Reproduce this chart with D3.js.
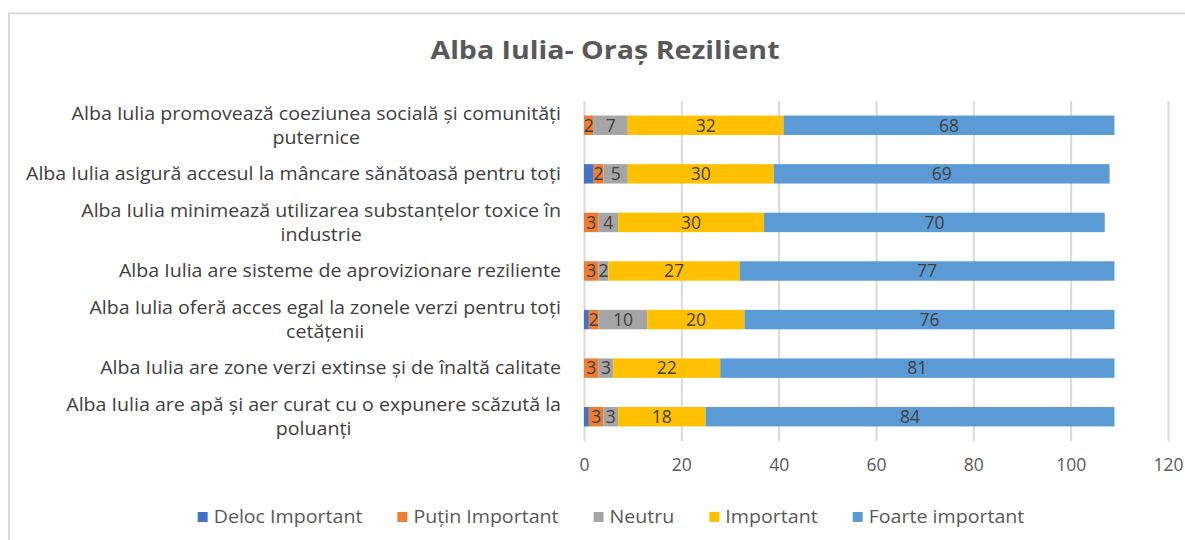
<!DOCTYPE html>
<html>
<head>
<meta charset="utf-8">
<script src="https://cdn.jsdelivr.net/npm/d3@7"></script>
<style>
  body { margin: 0; background: #fff; }
  svg { font-family: "Open Sans", sans-serif; }
  .grid line { stroke: #d9d9d9; stroke-width: 2; }
  .grid .domain { display: none; }
</style>
</head>
<body>
<svg width="1185" height="540"></svg>
<script>
// categories, top to bottom as in the chart
const categories = [
  'Alba Iulia promovează coeziunea socială și comunități puternice',
  'Alba Iulia asigură accesul la mâncare sănătoasă pentru toți',
  'Alba Iulia minimează utilizarea substanțelor toxice în industrie',
  'Alba Iulia are sisteme de aprovizionare reziliente',
  'Alba Iulia oferă acces egal la zonele verzi pentru toți cetățenii',
  'Alba Iulia are zone verzi extinse și de înaltă calitate',
  'Alba Iulia are apă și aer curat cu o expunere scăzută la poluanți'
];

const seriesNames = ['Deloc Important', 'Puțin Important', 'Neutru', 'Important', 'Foarte important'];

const delocImportant  = [0, 2, 0, 0, 1, 0, 1];
const putinImportant  = [2, 2, 3, 3, 2, 3, 3];
const neutru          = [7, 5, 4, 2, 10, 3, 3];
const important       = [32, 30, 30, 27, 20, 22, 18];
const foarteImportant = [68, 69, 70, 77, 76, 81, 84];

const xTicks = [0, 20, 40, 60, 80, 100, 120];

const colors = ['#4472c4', '#ed7d31', '#a5a5a5', '#ffc000', '#5b9bd5'];
const showLabels = [false, true, true, true, true];

const seriesValues = [delocImportant, putinImportant, neutru, important, foarteImportant];

const rows = categories.map((c, i) => {
  const r = { category: c };
  seriesNames.forEach((s, j) => r[s] = seriesValues[j][i]);
  return r;
});

const stacked = d3.stack().keys(seriesNames)(rows);

const plot = { left: 584, right: 1168, top: 101, bottom: 441 };

// the original text is drawn a bit wider than the installed fonts
const textStretch = 1.12;
const stretch = sel => sel.each(function () {
  const w = this.getComputedTextLength();
  d3.select(this)
    .attr('textLength', w * textStretch)
    .attr('lengthAdjust', 'spacingAndGlyphs');
});

const svg = d3.select('svg');

// outer frame
svg.append('path')
  .attr('d', `M9,540 V13.5 H1185`)
  .attr('fill', 'none')
  .attr('stroke', '#d9d9d9')
  .attr('stroke-width', 2);

svg.append('text')
  .attr('x', 605)
  .attr('y', 59)
  .attr('text-anchor', 'middle')
  .attr('font-size', 25.5)
  .attr('font-weight', 'bold')
  .attr('fill', '#595959')
  .text('Alba Iulia- Oraș Rezilient')
  .call(stretch);

const x = d3.scaleLinear()
  .domain([0, 120])
  .range([plot.left, plot.right]);

const y = d3.scaleBand()
  .domain(categories)
  .range([plot.top, plot.bottom])
  .paddingInner(0.6)
  .paddingOuter(0.3);

svg.append('g')
  .attr('class', 'grid')
  .attr('transform', `translate(0, ${plot.bottom})`)
  .call(d3.axisBottom(x).tickValues(xTicks).tickSize(plot.top - plot.bottom).tickFormat(''));

svg.append('g')
  .attr('transform', `translate(0, ${plot.bottom})`)
  .call(d3.axisBottom(x).tickValues(xTicks).tickSize(0).tickPadding(18))
  .call(g => g.select('.domain').remove())
  .call(g => g.selectAll('text')
    .attr('font-size', 17.5)
    .attr('font-family', '"Open Sans", sans-serif')
    .attr('fill', '#595959'));

// bars
const layers = svg.append('g')
  .selectAll('g')
  .data(stacked)
  .join('g')
  .attr('fill', (d, i) => colors[i]);

layers.selectAll('rect')
  .data(d => d)
  .join('rect')
  .attr('x', d => x(d[0]))
  .attr('y', d => y(d.data.category))
  .attr('width', d => x(d[1]) - x(d[0]))
  .attr('height', y.bandwidth());

// data labels
svg.append('g')
  .selectAll('g')
  .data(stacked.filter((s, i) => showLabels[i]))
  .join('g')
  .selectAll('text')
  .data(d => d.filter(p => p[1] - p[0] > 0).map(p => ({ p, v: p[1] - p[0] })))
  .join('text')
  .attr('x', d => x((d.p[0] + d.p[1]) / 2))
  .attr('y', d => y(d.p.data.category) + y.bandwidth() / 2)
  .attr('dy', '0.36em')
  .attr('text-anchor', 'middle')
  .attr('font-size', 17.5)
  .attr('fill', '#404040')
  .text(d => d.v);

// category labels, wrapped and centred as a block ending at the axis
const labelRight = 561;
const maxLabelWidth = 545;
const lineHeight = 24;
const labelSize = 17.5;

const labels = svg.append('g')
  .selectAll('g')
  .data(categories)
  .join('g');

labels.each(function (c) {
  const g = d3.select(this);
  const probe = g.append('text').attr('font-size', labelSize);
  const measure = s => { probe.text(s); return probe.node().getComputedTextLength() * textStretch; };
  const words = c.split(' ');
  const lines = [];
  let line = [];
  words.forEach(w => {
    line.push(w);
    if (measure(line.join(' ')) > maxLabelWidth && line.length > 1) {
      line.pop();
      lines.push(line.join(' '));
      line = [w];
    }
  });
  lines.push(line.join(' '));
  const blockWidth = d3.max(lines, measure);
  probe.remove();
  const cx = labelRight - blockWidth / 2;
  const cy = y(c) + y.bandwidth() / 2;
  g.selectAll('text')
    .data(lines)
    .join('text')
    .attr('x', cx)
    .attr('y', (l, i) => cy + (i - (lines.length - 1) / 2) * lineHeight)
    .attr('dy', '0.36em')
    .attr('text-anchor', 'middle')
    .attr('font-size', labelSize)
    .attr('fill', '#404040')
    .text(l => l)
    .call(stretch);
});

// legend
const legend = svg.append('g').attr('transform', 'translate(0, 517)');
const items = legend.selectAll('g')
  .data(seriesNames)
  .join('g');

items.append('rect')
  .attr('width', 10)
  .attr('height', 10)
  .attr('y', -5)
  .attr('fill', (d, i) => colors[i]);

items.append('text')
  .attr('x', 16)
  .attr('dy', '0.36em')
  .attr('font-size', 17.5)
  .attr('fill', '#595959')
  .text(d => d)
  .call(stretch);

const widths = [];
items.each(function () { widths.push(this.getBBox().width); });
const gap = 35;
const total = d3.sum(widths) + gap * (widths.length - 1);
let cursor = 611 - total / 2;
items.attr('transform', (d, i) => {
  const t = `translate(${cursor}, 0)`;
  cursor += widths[i] + gap;
  return t;
});
</script>
</body>
</html>
